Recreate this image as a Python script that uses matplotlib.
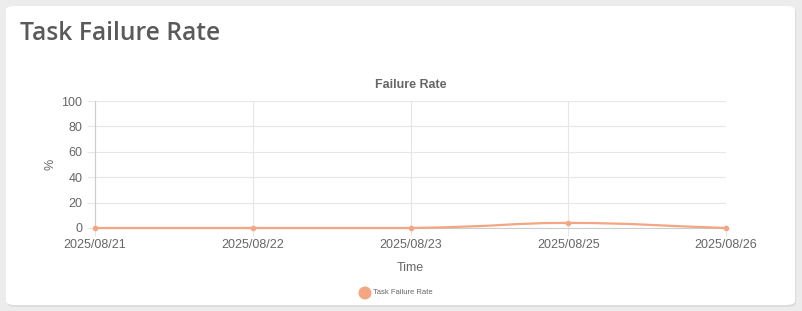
import numpy as np
import matplotlib
matplotlib.use("Agg")
import matplotlib.pyplot as plt
from matplotlib.path import Path
from matplotlib.patches import PathPatch, FancyBboxPatch, Ellipse

plt.rcParams["font.family"] = ["Liberation Sans", "DejaVu Sans"]

dates = ["2025/08/21", "2025/08/22", "2025/08/23", "2025/08/25", "2025/08/26"]
failure_rate = [0, 0, 0, 4, 0]
yticks = [0, 20, 40, 60, 80, 100]

line_color = "#f4a582"
text_color = "#666666"

fig = plt.figure(figsize=(8.02, 3.11), dpi=100)
fig.patch.set_facecolor("#ececec")

# white card with soft shadow
shadow = FancyBboxPatch((7 / 802, 4 / 311), 789 / 802, 300 / 311,
                        boxstyle="round,pad=0,rounding_size=0.012",
                        transform=fig.transFigure, facecolor="#dcdcdc",
                        edgecolor="none", zorder=-3)
card = FancyBboxPatch((6 / 802, 6 / 311), 789 / 802, 299 / 311,
                      boxstyle="round,pad=0,rounding_size=0.012",
                      transform=fig.transFigure, facecolor="white",
                      edgecolor="none", zorder=-2)
fig.patches.extend([shadow, card])

fig.text(20 / 802, 1 - 34 / 311, "Task Failure Rate", fontsize=17.7,
         fontweight="semibold", family="Open Sans", color="#5a5a5a",
         va="center", ha="left")

ax = fig.add_axes([95 / 802, (311 - 228) / 311, 631 / 802, 127 / 311])
ax.set_facecolor("none")

x = np.arange(len(dates))
y = np.array(failure_rate, dtype=float)

# smooth (bezier) line like chart.js tension
t = 0.4
verts = [(x[0], y[0])]
codes = [Path.MOVETO]
cps = []
for i in range(len(x)):
    p0 = np.array([x[max(i - 1, 0)], y[max(i - 1, 0)]])
    p1 = np.array([x[i], y[i]])
    p2 = np.array([x[min(i + 1, len(x) - 1)], y[min(i + 1, len(x) - 1)]])
    d01 = np.hypot(*(p1 - p0))
    d12 = np.hypot(*(p2 - p1))
    s = d01 + d12 if d01 + d12 > 0 else 1
    fa = t * d01 / s
    fb = t * d12 / s
    prev_cp = p1 - fa * (p2 - p0)
    next_cp = p1 + fb * (p2 - p0)
    prev_cp[1] = max(prev_cp[1], 0)
    next_cp[1] = max(next_cp[1], 0)
    cps.append((prev_cp, next_cp))
for i in range(1, len(x)):
    verts += [tuple(cps[i - 1][1]), tuple(cps[i][0]), (x[i], y[i])]
    codes += [Path.CURVE4] * 3
ax.add_patch(PathPatch(Path(verts, codes), facecolor="none",
                       edgecolor=line_color, lw=1.6, zorder=3, clip_on=False))
ax.plot(x, y, "o", color=line_color, ms=3, zorder=4, clip_on=False)

ax.set_xlim(0, len(dates) - 1)
ax.set_ylim(0, 100)
ax.set_xticks(x)
ax.set_xticklabels(dates)
ax.set_yticks(yticks)
ax.grid(True, color="#e6e6e6", lw=0.8)
ax.set_axisbelow(True)
for side in ["top", "right"]:
    ax.spines[side].set_visible(False)
for side in ["left", "bottom"]:
    ax.spines[side].set_color("#cccccc")
    ax.spines[side].set_linewidth(0.8)
ax.tick_params(axis="both", colors="#e6e6e6", labelcolor=text_color,
               labelsize=9, length=6, width=0.8)
ax.tick_params(axis="x", pad=2)
ax.tick_params(axis="y", pad=3)

ax.set_title("Failure Rate", fontsize=9, fontweight="bold", color=text_color, pad=9)
ax.set_ylabel("%", fontsize=9, color=text_color)
ax.yaxis.set_label_coords(-39 / 631, 0.5)
ax.set_xlabel("Time", fontsize=9, color=text_color, labelpad=8)

# legend
fig.add_artist(Ellipse((365 / 802, 1 - 293 / 311), 13 / 802, 13 / 311,
                       transform=fig.transFigure,
                       facecolor=line_color, edgecolor="none"))
fig.text(373 / 802, 1 - 293 / 311, "Task Failure Rate", fontsize=5.5,
         color=text_color, va="center", ha="left")

fig.savefig("out.png", dpi=100, facecolor=fig.get_facecolor())
